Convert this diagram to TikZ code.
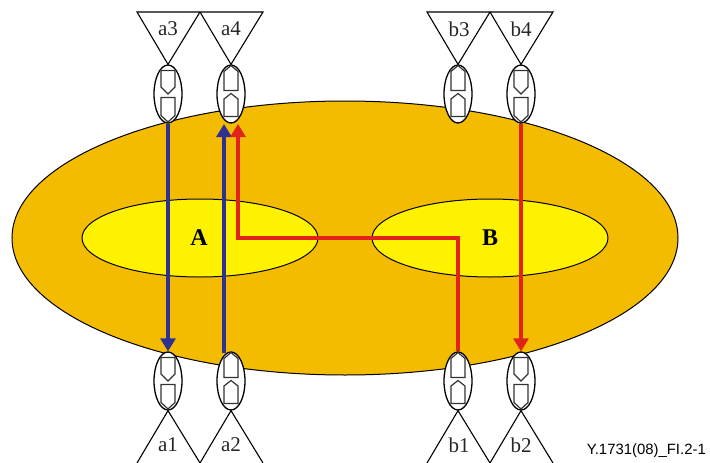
\documentclass[tikz,border=0pt]{standalone}
\usepackage{fontspec}
\setmainfont{Liberation Serif}
\newfontfamily\labelfont{Liberation Sans}
\usetikzlibrary{shapes.geometric,arrows.meta}
\definecolor{cloudorange}{HTML}{F4BC00}
\definecolor{coreyellow}{HTML}{FFF200}
\definecolor{flowblue}{HTML}{2E3192}
\definecolor{flowred}{HTML}{E2231A}
\tikzset{
  outline/.style={draw=black,line width=1pt},
  cloud/.style={ellipse,outline,fill=cloudorange,inner sep=0pt,minimum width=666pt,minimum height=274pt},
  core/.style={ellipse,outline,fill=coreyellow,inner sep=0pt,minimum width=236pt,minimum height=78pt},
  corelabel/.style={font=\fontsize{24}{24}\selectfont\bfseries,inner sep=0pt},
  port/.style={ellipse,draw=black,line width=1.3pt,fill=white,inner sep=0pt,minimum width=28pt,minimum height=58pt},
  leaf/.style={font=\fontsize{21}{21}\selectfont,text=black!85,inner sep=0pt},
  edge/.style={draw=black,line width=1.1pt},
  flow/.style={line width=3.05pt,-{Triangle[length=13pt,width=15pt]}},
  shell/.style={draw=black!80,line width=1.2pt,fill=white,line join=miter}
}
% pentagons pointing down, around a port centre
\newcommand{\portdown}[1]{%
  \draw[shell] ([shift={(-7,-23.5)}]#1.center) -- ++(14,0) -- ++(0,16.5) -- ++(-7,7) -- ++(-7,-7) -- cycle;
  \draw[shell] ([shift={(-7,3.5)}]#1.center) -- ++(14,0) -- ++(0,18) -- ++(-7,6.5) -- ++(-7,-6.5) -- cycle;
}
% pentagons pointing up, around a port centre
\newcommand{\portup}[1]{%
  \draw[shell] ([shift={(-7,-3.5)}]#1.center) -- ++(14,0) -- ++(0,-19) -- ++(-7,-6 ) -- ++(-7,6) -- cycle;
  \draw[shell] ([shift={(-7,22.5)}]#1.center) -- ++(14,0) -- ++(0,-17.5) -- ++(-7,-5.5) -- ++(-7,5.5) -- cycle;
}
\begin{document}
\begin{tikzpicture}[x=1pt,y=-1pt]
\useasboundingbox (0,0) rectangle (710,463);
\clip (0,0) rectangle (710,463);
\node[cloud] (cloud) at (345,238) {};
\node[core] (A) at (200,238) {};
\node[core] (B) at (490,238) {};
\node[corelabel] (lA) at (199,238) {A};
\node[corelabel] (lB) at (490,238) {B};
% triangles
\coordinate (ta3l) at (137,12); \coordinate (ta3r) at (200,12);
\coordinate (ta4r) at (263,12);
\coordinate (tb3l) at (427,12); \coordinate (tb3r) at (490,12);
\coordinate (tb4r) at (553,12);
\coordinate (ba1l) at (137,463); \coordinate (ba1r) at (200,463);
\coordinate (ba2r) at (263,463);
\coordinate (bb1l) at (427,463); \coordinate (bb1r) at (490,463);
\coordinate (bb2r) at (553,463);
% ports
\node[port] (pa3) at (168,94) {};
\node[port] (pa4) at (231,94) {};
\node[port] (pb3) at (458,94) {};
\node[port] (pb4) at (521,94) {};
\node[port] (pa1) at (168,381) {};
\node[port] (pa2) at (231,381) {};
\node[port] (pb1) at (458,381) {};
\node[port] (pb2) at (521,381) {};
\draw[edge] (pa3.north) -- (ta3l) -- (ta4r) -- (pa4.north) -- (ta3r) -- cycle;
\draw[edge] (pb3.north) -- (tb3l) -- (tb4r) -- (pb4.north) -- (tb3r) -- cycle;
\draw[edge] (ba1l) -- (pa1.south) -- (ba1r) -- (pa2.south) -- (ba2r);
\draw[edge] (bb1l) -- (pb1.south) -- (bb1r) -- (pb2.south) -- (bb2r);
\portdown{pa3}\portup{pa4}\portup{pb3}\portdown{pb4}
\portdown{pa1}\portup{pa2}\portup{pb1}\portdown{pb2}
% labels
\node[leaf] (la3) at (168,29) {a3};
\node[leaf] (la4) at (231,29) {a4};
\node[leaf] (lb3) at (459,29) {b3};
\node[leaf] (lb4) at (521,29) {b4};
\node[leaf] (la1) at (168,445) {a1};
\node[leaf] (la2) at (231,445) {a2};
\node[leaf] (lb1) at (459,445) {b1};
\node[leaf] (lb2) at (521,445) {b2};
\node[font=\labelfont\fontsize{14.9}{15}\selectfont,inner sep=0pt,anchor=east] (tag) at (706,451) {Y.1731(08)\_FI.2-1};
% flows
\coordinate (a2out) at (224,353);
\coordinate (a4in) at (224,124);
\coordinate (a4inr) at (238,124);
\draw[flow,flowblue] (pa3.south) -- (pa1.north);
\draw[flow,flowblue] (a2out) -- (a4in);
\draw[flow,flowred] (pb4.south) -- (pb2.north);
\draw[flow,flowred] (pb1.north) |- (a4inr |- A) -- (a4inr);
\end{tikzpicture}
\end{document}
